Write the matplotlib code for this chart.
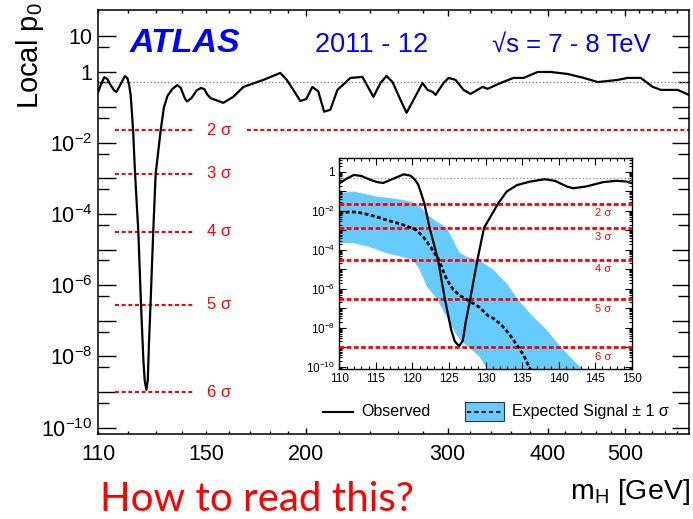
import math
import matplotlib
matplotlib.use("Agg")
import matplotlib.pyplot as plt
from matplotlib.ticker import FixedLocator, FuncFormatter, NullFormatter
from matplotlib.lines import Line2D
from matplotlib.patches import Rectangle

plt.rcParams["font.family"] = ["Liberation Sans", "DejaVu Sans"]
plt.rcParams["mathtext.fontset"] = "custom"
plt.rcParams["mathtext.rm"] = "Liberation Sans"
plt.rcParams["mathtext.it"] = "Liberation Sans:italic"
plt.rcParams["mathtext.bf"] = "Liberation Sans:bold"
plt.rcParams["mathtext.sf"] = "Liberation Sans"

# ---------------- data ----------------
# Observed local p0 as a function of the Higgs boson mass (GeV)
obs_mass = [110.0, 111.0, 112.0, 113.0, 114.2, 115.2, 116.0, 117.4, 118.8, 119.7,
            120.3, 120.8, 121.2, 121.65, 122.35, 123.5, 124.45, 125.3, 125.8, 126.4,
            126.9, 127.3, 127.9, 128.9, 129.8, 131.7, 132.9, 134.3, 136.1, 138.1,
            139.5, 141.1, 142.0, 143.8, 146.1, 147.9, 149.3, 150.5, 152.0, 157.6,
            162.2, 167.0, 176.8, 185.6, 189.0, 192.7, 196.6, 200.0, 203.5, 207.0,
            210.5, 214.3, 218.7, 227.0, 235.0, 242.5, 247.5, 251.8, 256.2, 262.1,
            266.7, 272.1, 279.2, 283.3, 287.4, 289.9, 296.6, 300.9, 307.0, 314.1,
            320.5, 331.7, 336.5, 349.3, 362.6, 373.3, 388.6, 403.4, 423.6, 443.6,
            461.7, 489.0, 503.2, 522.4, 540.8, 553.4, 581.0, 600.0]
obs_p0 = [0.26, 0.45, 0.70, 0.62, 0.40, 0.30, 0.27, 0.45, 0.75, 0.65,
          0.42, 0.22, 0.08, 2.3e-2, 1.35e-3, 3.2e-5, 2.9e-7, 8e-9, 2e-9, 1.15e-9,
          2.2e-9, 2e-8, 2.9e-7, 3.2e-5, 1.35e-3, 2.3e-2, 0.098, 0.21, 0.32, 0.42,
          0.35, 0.18, 0.145, 0.18, 0.30, 0.35, 0.32, 0.23, 0.18, 0.133,
          0.196, 0.373, 0.586, 0.92, 0.6, 0.307, 0.15, 0.17, 0.373, 0.28,
          0.075, 0.085, 0.307, 0.667, 0.71, 0.196, 0.48, 0.758, 0.51, 0.161,
          0.07, 0.161, 0.48, 0.307, 0.27, 0.222, 0.48, 0.667, 0.586, 0.307,
          0.237, 0.373, 0.33, 0.48, 0.667, 0.667, 0.98, 0.98, 0.86, 0.667,
          0.51, 0.586, 0.667, 0.667, 0.373, 0.307, 0.307, 0.222]

# Expected p0 for a SM Higgs signal
exp_mass = [110.0, 111.5, 112.5, 114.2, 116.5, 118.8, 120.0, 120.6, 121.5, 122.0,
            122.6, 123.1, 123.6, 124.0, 124.7, 125.6, 126.5, 127.4, 128.4, 129.2,
            130.4, 131.1, 132.0, 132.9, 133.5, 134.5, 135.2, 135.9, 136.5]
exp_p0 = [7.6e-3, 9e-3, 8.5e-3, 6.2e-3, 3.4e-3, 1.9e-3, 1.3e-3, 1.0e-3, 4.5e-4, 2.6e-4,
          1.2e-4, 6e-5, 3.2e-5, 1.3e-5, 3e-6, 9e-7, 4.5e-7, 2.9e-7, 1.7e-7, 1.1e-7,
          4e-8, 3e-8, 1.6e-8, 7e-9, 3.5e-9, 1e-9, 4e-10, 1.1e-10, 4e-11]

# +-1 sigma band around the expectation
band_hi_mass = [110.0, 111.9, 113.5, 115.1, 117.0, 118.8, 120.0, 121.0, 122.0, 122.4,
                123.3, 124.2, 124.7, 125.2, 125.6, 126.0, 126.5, 127.4, 128.5, 129.4,
                131.1, 132.9, 134.5, 136.5, 138.4, 140.2, 142.0, 143.4, 144.2]
band_hi_p0 = [0.08, 0.098, 0.075, 0.054, 0.045, 0.036, 0.028, 0.017, 7e-3, 5e-3,
              2.8e-3, 1.8e-3, 1.3e-3, 6e-4, 3e-4, 1.5e-4, 7e-5, 4.5e-5, 3.3e-5, 2.5e-5,
              9.3e-6, 1.9e-6, 2.7e-7, 3.7e-8, 7.7e-9, 1.1e-9, 2.2e-10, 6.8e-11, 3e-11]
band_lo_mass = [110.0, 111.9, 114.2, 116.5, 118.8, 120.1, 121.0, 122.0, 123.3, 124.2,
                125.4, 126.5, 127.9, 129.2, 130.2, 130.8]
band_lo_p0 = [2.3e-4, 2.2e-4, 1.4e-4, 6.6e-5, 4.2e-5, 3e-5, 9.3e-6, 1.3e-6, 3.2e-7, 8e-8,
              1.1e-8, 2.3e-9, 8.7e-10, 3.2e-10, 8e-11, 3e-11]

# One-sided p0 values of the significance levels
sigma_labels = ["2 σ", "3 σ", "4 σ", "5 σ", "6 σ"]
sigma_p0 = [2.275e-2, 1.350e-3, 3.167e-5, 2.867e-7, 9.866e-10]
half_p0 = 0.5

main_major_x = [200, 300, 400, 500]
main_minor_x = [110, 120, 130, 140, 150, 160, 170, 180, 190, 220, 240, 260, 280,
                320, 340, 360, 380, 420, 440, 460, 480, 520, 540, 560, 580]
main_labeled_minor_x = [110, 150]

# ---------------- styling ----------------
BAND = "#66CCFF"
RED = "#FF0000"
BLUE = "#0000FF"
W, H = 693, 519


def fx(px):
    return px / W


def fy(py):
    return 1 - py / H


fig = plt.figure(figsize=(W / 100, H / 100), dpi=100)
ax = fig.add_axes([fx(98), fy(434), fx(689) - fx(98), fy(10) - fy(434)])

ax.set_xscale("log")
ax.set_yscale("log")
ax.set_xlim(110, 600)
ax.set_ylim(6.6e-11, 54)

# significance reference lines
for lab, p in zip(sigma_labels, sigma_p0):
    ax.plot([115.5, 145.5], [p, p], color=RED, lw=1.5, dashes=(1.9, 1.3), zorder=2)
    ax.text(150.5, p, lab, color=RED, fontsize=12, va="center", ha="left")
ax.plot([168.8, 600], [sigma_p0[0]] * 2, color=RED, lw=1.5, dashes=(1.9, 1.3), zorder=2)
ax.axhline(half_p0, color="#888888", lw=1.0, ls=(0, (1, 1.5)), zorder=2)

ax.plot(obs_mass, obs_p0, color="black", lw=1.6, zorder=3)

# axis ticks
ax.xaxis.set_major_locator(FixedLocator(main_major_x))
ax.xaxis.set_major_formatter(FuncFormatter(lambda v, _: f"{v:.0f}"))
ax.xaxis.set_minor_locator(FixedLocator(main_minor_x))
ax.xaxis.set_minor_formatter(FuncFormatter(
    lambda v, _: f"{v:.0f}" if round(v) in main_labeled_minor_x else ""))

decades = [10.0 ** k for k in range(-10, 2)]


def main_ylab(v, _):
    k = int(round(math.log10(v)))
    if k == 1:
        return "10"
    if k == 0:
        return "1"
    if k % 2 == 0:
        return rf"$10^{{{k}}}$"
    return ""


ax.yaxis.set_major_locator(FixedLocator(decades))
ax.yaxis.set_major_formatter(FuncFormatter(main_ylab))
ax.yaxis.set_minor_locator(FixedLocator([5 * 10.0 ** k for k in range(-11, 1)]))
ax.yaxis.set_minor_formatter(NullFormatter())

ax.tick_params(which="both", direction="in", top=True, right=True, width=1.0)
ax.tick_params(axis="y", which="major", length=12.6, labelsize=15.5, pad=4)
ax.tick_params(axis="y", which="minor", length=8)
ax.tick_params(axis="x", which="major", length=4.5, labelsize=15.5, pad=7)
ax.tick_params(axis="x", which="minor", length=2.5, labelsize=15.5, pad=7)
for s in ax.spines.values():
    s.set_linewidth(1.1)

# axis titles
fig.text(fx(14), fy(2), r"Local p$_0$", rotation=90, ha="left", va="top", fontsize=21)
fig.text(fx(690), fy(499), r"m$_{\mathrm{H}}$ [GeV]", ha="right", va="baseline",
         fontsize=20.5)

# header
fig.text(fx(130), fy(43), "ATLAS", color=BLUE, fontsize=24.5, fontweight="bold",
         fontstyle="italic", va="center", ha="left")
fig.text(fx(315), fy(45), "2011 - 12", color=BLUE, fontsize=19.5, va="center", ha="left")
fig.text(fx(492), fy(45), "√s = 7 - 8 TeV", color=BLUE, fontsize=18.5,
         va="center", ha="left")

# legend
fig.add_artist(Line2D([fx(323), fx(353)], [fy(412)] * 2, color="black", lw=1.5))
fig.text(fx(361), fy(412), "Observed", fontsize=11.5, va="center", ha="left")
fig.add_artist(Rectangle((fx(465), fy(421)), fx(504) - fx(465), fy(402) - fy(421),
                         facecolor=BAND, edgecolor="#333333", lw=0.8,
                         transform=fig.transFigure))
fig.add_artist(Line2D([fx(467), fx(502)], [fy(411.5)] * 2, color="black", lw=1.5,
                      dashes=(2, 1.5)))
fig.text(fx(512), fy(411.5), "Expected Signal ± 1 σ", fontsize=11.5, va="center", ha="left")

# ---------------- zoomed inset ----------------
ins = fig.add_axes([fx(339.3), fy(369.3), fx(631.7) - fx(339.3), fy(158.3) - fy(369.3)])
ins.set_yscale("log")
ins.set_xlim(110, 150)
ins.set_ylim(7.4e-11, 5)

ins.fill(band_hi_mass + band_lo_mass[::-1], band_hi_p0 + band_lo_p0[::-1],
         color=BAND, lw=0, zorder=1)
ins.axhline(half_p0, color="#999999", lw=1.0, ls=(0, (1, 1.5)), zorder=2)
for lab, p in zip(sigma_labels, sigma_p0):
    ins.axhline(p, color=RED, lw=2.0, dashes=(1.7, 0.9), zorder=3)
    ins.annotate(lab, (145.0, p), xytext=(0, -3), textcoords="offset points",
                 color=RED, fontsize=8, va="top", ha="left")
ins.plot(exp_mass, exp_p0, color="black", lw=2.0, dashes=(1.4, 0.9), zorder=4)
ins.plot(obs_mass, obs_p0, color="black", lw=1.6, zorder=5)

ins.xaxis.set_major_locator(FixedLocator(list(range(110, 151, 5))))
ins.xaxis.set_minor_locator(FixedLocator(list(range(110, 151, 1))))
ins_dec = [10.0 ** k for k in range(-10, 1)]
ins.yaxis.set_major_locator(FixedLocator(ins_dec))


def ins_ylab(v, _):
    k = int(round(math.log10(v)))
    if k == 0:
        return "1"
    if k % 2 == 0:
        return rf"$10^{{{k}}}$"
    return ""


ins.yaxis.set_major_formatter(FuncFormatter(ins_ylab))
ins.yaxis.set_minor_locator(FixedLocator([m * 10.0 ** k for k in range(-11, 1)
                                          for m in range(2, 10)]))
ins.yaxis.set_minor_formatter(NullFormatter())
ins.tick_params(which="both", direction="in", top=True, right=True, width=0.8,
                labelsize=8.5)
ins.tick_params(which="major", length=5, pad=3)
ins.tick_params(which="minor", length=2.5)
for s in ins.spines.values():
    s.set_linewidth(1.0)

# question below the plot
fig.text(fx(100), fy(511), "How to read this?", color=RED, fontsize=29,
         family=["Lato", "DejaVu Sans"], va="baseline", ha="left")

fig.savefig("out.png", dpi=100)
